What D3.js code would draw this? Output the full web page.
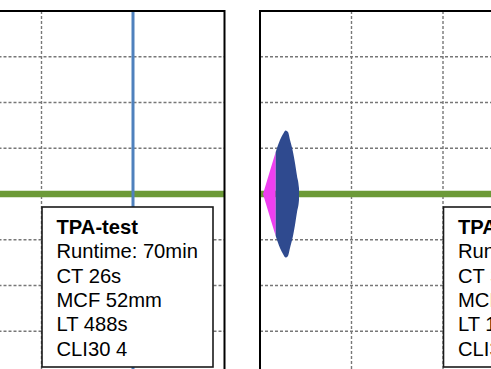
<!DOCTYPE html>
<html>
<head>
<meta charset="utf-8">
<script src="https://cdn.jsdelivr.net/npm/d3@7"></script>
<style>
  html, body { margin: 0; padding: 0; background: #ffffff; overflow: hidden; }
  svg { display: block; }
</style>
</head>
<body>
<svg id="chart" width="491" height="369"></svg>
<script>
// ---- data ----
const timeDomain = [0, 80];              // minutes
const timeTicks = [0, 20, 40, 60, 80];
const ampDomain = [-80, 80];             // mm
const ampTicks = [-80, -60, -40, -20, 0, 20, 40, 60, 80];

// Left panel: flat trace + run-time marker
const leftTraceTime = [0, 80];
const leftTraceAmp = [0, 0];
const leftMarkerTime = 60;
const leftLegend = ["TPA-test", "Runtime: 70min", "CT 26s", "MCF 52mm", "LT 488s", "CLI30 4"];

// Right panel: clot trace with early lysis
const rightBaselineTime = [0, 80];
const rightBaselineAmp = [0, 0];
const rightTime = [0.66, 1.97, 3.43, 4.37, 5.03, 5.62, 6.12, 6.56, 7.21, 7.65, 8.09, 8.52, 8.55];
const rightAmp  = [0,    8.7,  18.4, 23.6, 26.2, 27.8, 27.1, 23.6, 18.4, 13.6, 7.9,  2.6,  0];
const rightCT = 3.43;
const rightLegend = ["TPA-test", "Runtime: 70min", "CT 38s", "MCF 28mm", "LT 156s", "CLI30 0"];

// ---- layout ----
const svg = d3.select("#chart");
const panelW = 366, panelH = 366, panelTop = 11;
const panelLefts = [-141.5, 260];

const x = d3.scaleLinear().domain(timeDomain).range([0, panelW]);
const y = d3.scaleLinear().domain(ampDomain).range([panelH, 0]);

const colors = {
  grid: "#777777",
  green: "#6c9a37",
  marker: "#4f81bd",
  clot: "#2f4a8f",
  ct: "#ee3ff0",
  frame: "#000000"
};

function drawPanel(idx, left, drawContent, legendLines) {
  const g = svg.append("g").attr("transform", `translate(${left},${panelTop})`);
  const clipId = "clip" + idx;
  g.append("clipPath").attr("id", clipId)
    .append("rect").attr("x", 0).attr("y", 0).attr("width", panelW).attr("height", panelH);

  const inner = g.append("g").attr("clip-path", `url(#${clipId})`);

  // grid
  inner.append("g").selectAll("line.h").data(ampTicks.slice(1, -1)).join("line")
    .attr("x1", 0).attr("x2", panelW)
    .attr("y1", d => y(d)).attr("y2", d => y(d))
    .attr("stroke", colors.grid).attr("stroke-width", 1.4).attr("stroke-dasharray", "3,2");
  inner.append("g").selectAll("line.v").data(timeTicks.slice(1, -1)).join("line")
    .attr("y1", 0).attr("y2", panelH)
    .attr("x1", d => x(d)).attr("x2", d => x(d))
    .attr("stroke", colors.grid).attr("stroke-width", 1.4).attr("stroke-dasharray", "3,2");

  drawContent(inner);

  // legend box
  const lx = 183.5, ly = 196, lw = 171, lh = 160;
  const lg = inner.append("g").attr("transform", `translate(${lx},${ly})`);
  lg.append("rect").attr("width", lw).attr("height", lh)
    .attr("fill", "#ffffff").attr("stroke", "#1a1a1a").attr("stroke-width", 1.6);
  lg.selectAll("text").data(legendLines).join("text")
    .attr("x", 14.5).attr("y", (d, i) => 27 + i * 24.3)
    .attr("font-family", "'Liberation Sans', Arial, sans-serif")
    .attr("font-size", 20.2)
    .attr("font-weight", (d, i) => i === 0 ? "bold" : "normal")
    .attr("fill", "#000000")
    .text(d => d);

  // frame
  g.append("rect").attr("x", 0).attr("y", 0).attr("width", panelW).attr("height", panelH)
    .attr("fill", "none").attr("stroke", colors.frame).attr("stroke-width", 2);
}

const line = d3.line().x((d) => x(d[0])).y((d) => y(d[1]));

drawPanel(0, panelLefts[0], (inner) => {
  inner.append("path")
    .datum(d3.zip(leftTraceTime, leftTraceAmp))
    .attr("d", line).attr("fill", "none")
    .attr("stroke", colors.green).attr("stroke-width", 6.5);
  inner.append("line")
    .attr("x1", x(leftMarkerTime)).attr("x2", x(leftMarkerTime))
    .attr("y1", 0).attr("y2", panelH)
    .attr("stroke", colors.marker).attr("stroke-width", 3);
}, leftLegend);

drawPanel(1, panelLefts[1], (inner) => {
  inner.append("path")
    .datum(d3.zip(rightBaselineTime, rightBaselineAmp))
    .attr("d", line).attr("fill", "none")
    .attr("stroke", colors.green).attr("stroke-width", 6.5);
  const pts = d3.zip(rightTime, rightAmp);
  const area = d3.area().x(d => x(d[0])).y0(d => y(-d[1])).y1(d => y(d[1])).curve(d3.curveMonotoneX);
  const ctPts = pts.filter(d => d[0] <= rightCT);
  const clotPts = pts.filter(d => d[0] >= rightCT);
  inner.append("path").datum(ctPts).attr("d", area).attr("fill", colors.ct);
  inner.append("path").datum(clotPts).attr("d", area).attr("fill", colors.clot);
}, rightLegend);
</script>
</body>
</html>
